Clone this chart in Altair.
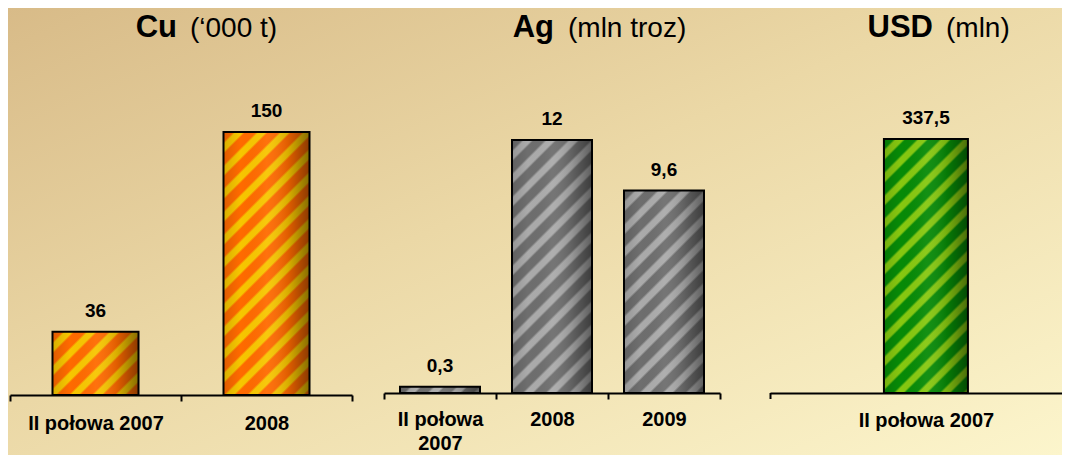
import altair as alt
import pandas as pd

FONT = "Liberation Sans"

# ---- data ----
cu_categories = ["II połowa 2007", "2008"]
cu_values = [36, 150]
ag_categories = ["II połowa 2007", "2008", "2009"]
ag_values = [0.3, 12, 9.6]
usd_categories = ["II połowa 2007"]
usd_values = [337.5]

cu_title = ["Cu", "(\u2018000 t)"]
ag_title = ["Ag", "(mln troz)"]
usd_title = ["USD", "(mln)"]


def fmt(v):
    return ("%g" % v).replace(".", ",")


def stripe_gradient(w, h, base, stripe, period=23.0):
    # 45-degree "/" stripes inside a w x h bar (objectBoundingBox units)
    h = max(h, 1.0)
    s = (w + h) / (w * w + h * h)
    n = (w + h) / period
    pattern = [(0.0, base), (0.42, base), (0.55, stripe), (0.85, stripe), (0.97, base)]
    stops = []
    i = 0
    done = False
    while not done:
        for frac, col in pattern:
            t = (i + frac) / n
            if t > 1:
                done = True
                break
            stops.append({"offset": round(t, 5), "color": col})
        i += 1
    stops.append({"offset": 1, "color": stops[-1]["color"]})
    return {"gradient": "linear", "x1": 0, "y1": 0, "x2": w * s, "y2": h * s, "stops": stops}


SHADE = {
    "gradient": "linear", "x1": 0, "y1": 0, "x2": 1, "y2": 0,
    "stops": [
        {"offset": 0, "color": "rgba(0,0,0,0.12)"},
        {"offset": 0.2, "color": "rgba(0,0,0,0)"},
        {"offset": 0.5, "color": "rgba(255,255,255,0.05)"},
        {"offset": 0.75, "color": "rgba(0,0,0,0.12)"},
        {"offset": 1, "color": "rgba(0,0,0,0.45)"},
    ],
}

BG = {
    "gradient": "linear", "x1": 0, "y1": 0, "x2": 1, "y2": 1,
    "stops": [
        {"offset": 0, "color": "#D8BB88"},
        {"offset": 0.45, "color": "#EBD8A6"},
        {"offset": 1, "color": "#FCF5CC"},
    ],
}


def panel(cats, vals, title, width, height, dmax, barw, base_col, stripe_col,
          title_x, label_pad, label_expr=None, ticks=True, scale_extra=None,
          background=None, left_tick=False):
    df = pd.DataFrame({"cat": cats, "val": vals, "lab": [fmt(v) for v in vals]})
    sc = dict(domain=cats, paddingInner=0, paddingOuter=0)
    if scale_extra:
        sc.update(scale_extra)
    axis_kw = dict(title=None, labelAngle=0, labelFont=FONT, labelFontSize=20,
                   labelFontWeight="bold", labelColor="black", labelPadding=label_pad,
                   domainColor="black", domainWidth=2, ticks=ticks, tickColor="black",
                   tickWidth=2, tickSize=6 if ticks else 0, tickBand="extent",
                   grid=False, labelLineHeight=24, zindex=1)
    if label_expr:
        axis_kw["labelExpr"] = label_expr
    x = alt.X("cat:N", scale=alt.Scale(**sc), axis=alt.Axis(**axis_kw))
    y = alt.Y("val:Q", scale=alt.Scale(domain=[0, dmax], nice=False, zero=True), axis=None)
    base = alt.Chart(df).encode(x=x, y=y)
    layers = []
    if background is not None:
        layers.append(background)
    for c, v in zip(cats, vals):
        h = v / dmax * height
        g = stripe_gradient(barw, h, base_col, stripe_col)
        layers.append(base.transform_filter(alt.datum.cat == c).mark_bar(size=barw, color=g))
    layers.append(base.mark_bar(size=barw, color=SHADE, stroke="black", strokeWidth=2))
    layers.append(base.mark_text(font=FONT, fontSize=19, fontWeight="bold", color="black",
                                 baseline="alphabetic", dy=-15).encode(text="lab:N"))
    one = alt.Data(values=[{}])
    if left_tick:
        layers.append(alt.Chart(one).mark_rule(color="black", strokeWidth=2).encode(
            x=alt.value(0.5), y=alt.value(height), y2=alt.value(height + 6)))
    layers.append(alt.Chart(one).mark_text(font=FONT, fontSize=31, fontWeight="bold", color="black",
                                           align="right", baseline="alphabetic").encode(
        x=alt.value(title_x[0]), y=alt.value(28.5), text=alt.value(title[0])))
    layers.append(alt.Chart(one).mark_text(font=FONT, fontSize=28, color="black",
                                           align="left", baseline="alphabetic").encode(
        x=alt.value(title_x[1]), y=alt.value(28.5), text=alt.value(title[1])))
    return alt.layer(*layers).properties(width=width, height=height)


def spacer(w):
    return alt.Chart(alt.Data(values=[{}])).mark_rect(opacity=0).encode(
        x=alt.value(0), x2=alt.value(1), y=alt.value(200), y2=alt.value(201)
    ).properties(width=w, height=385)


bg = alt.Chart(alt.Data(values=[{}])).mark_rect(color=BG, strokeWidth=0).encode(
    x=alt.value(-2), x2=alt.value(1052), y=alt.value(0), y2=alt.value(447))

p1 = panel(cu_categories, cu_values, cu_title, 342, 387, 220.7, 86,
           "#FF6A00", "#F7C600", (167, 180), 12, background=bg)
p2 = panel(ag_categories, ag_values, ag_title, 336, 385, 18.26, 80,
           "#6E6E6E", "#ABABAB", (170, 184), 10,
           label_expr="datum.label == 'II połowa 2007' ? ['II połowa', '2007'] : datum.label")
p3 = panel(usd_categories, usd_values, usd_title, 292, 385, 511.6, 84,
           "#078A07", "#86C810", (163, 176), 17, ticks=False,
           scale_extra=dict(paddingOuter=0.5, align=0.568), left_tick=True)

chart = alt.hconcat(p1, spacer(32), p2, spacer(50), p3, spacing=0, bounds="flush").properties(
    padding=0, background="#EBD8A6").configure_view(stroke=None)

chart.save("out.html", embed_options={"renderer": "svg", "actions": False})
